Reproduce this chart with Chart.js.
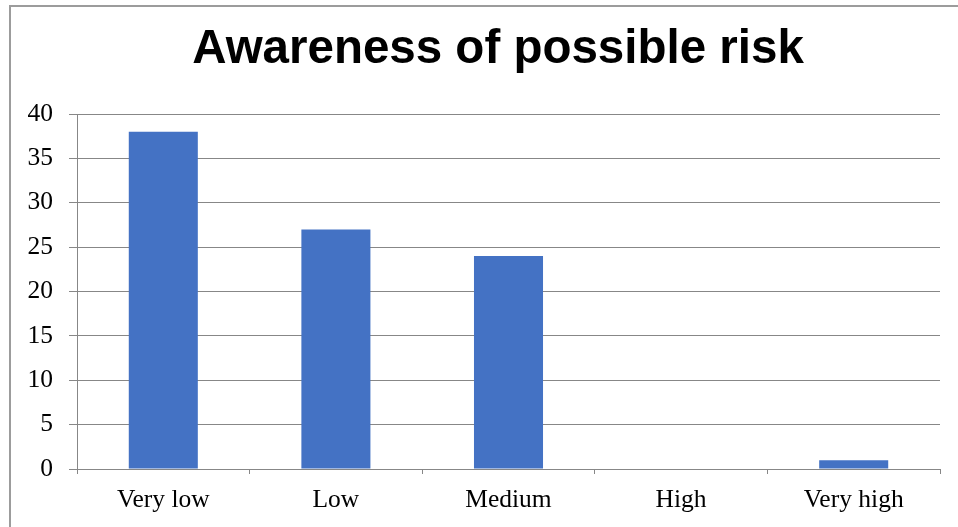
<!DOCTYPE html>
<html>
<head>
<meta charset="utf-8">
<script src="https://cdn.jsdelivr.net/npm/chart.js@4/dist/chart.umd.min.js"></script>
<style>
  html, body { margin: 0; padding: 0; background: #fff; overflow: hidden; }
  #frame { position: absolute; left: 9px; top: 5px; width: 1100px; height: 700px; border: 2px solid #9c9c9c; }
  #chart { position: absolute; left: 0; top: 0; }
</style>
</head>
<body>
<div id="frame"></div>
<canvas id="chart" width="958" height="527"></canvas>
<script>
  const categories = ['Very low', 'Low', 'Medium', 'High', 'Very high'];
  const values = [38, 27, 24, 0, 1];
  const yMin = 0;
  const yMax = 40;
  const yStep = 5;

  const gridGray = '#878787';
  const serif = "'Liberation Serif', 'Times New Roman', serif";

  // the y scale box is kept narrow so the title centres like the original;
  // widen it after layout so its tick labels are not clipped
  const widenYLabels = {
    id: 'widenYLabels',
    afterLayout(chart) {
      chart.scales.y.left = 0;
    },
  };

  let ctx = document.getElementById('chart').getContext('2d');
  let myChart = new Chart(ctx, {
    type: 'bar',
    data: {
      labels: categories,
      datasets: [
        {
          label: 'Awareness',
          data: values,
          backgroundColor: '#4472C4',
          borderWidth: 0,
          barPercentage: 0.4,
          categoryPercentage: 1,
        },
      ],
    },
    plugins: [widenYLabels],
    options: {
      responsive: false,
      animation: false,
      devicePixelRatio: 1,
      layout: {
        padding: { left: 56, right: 18, top: 10, bottom: 0 },
      },
      plugins: {
        legend: { display: false },
        tooltip: { enabled: false },
        title: {
          display: true,
          text: 'Awareness of possible risk',
          color: '#000',
          font: {
            family: "'Liberation Sans', Arial, sans-serif",
            size: 47.5,
            weight: 'bold',
            lineHeight: 1.2,
          },
          padding: { top: 11, bottom: 36 },
        },
      },
      scales: {
        x: {
          afterFit: (scale) => { scale.height = 58; },
          ticks: {
            color: '#000',
            padding: 11,
            font: { family: serif, size: 25.5 },
          },
          grid: {
            drawOnChartArea: false,
            drawTicks: true,
            tickLength: 5,
            color: gridGray,
          },
          border: { color: gridGray, width: 1 },
        },
        y: {
          min: yMin,
          max: yMax,
          afterFit: (scale) => { scale.width = 21; },
          ticks: {
            stepSize: yStep,
            color: '#000',
            padding: 16,
            font: { family: serif, size: 25.5 },
          },
          grid: {
            color: gridGray,
            tickLength: 8,
          },
          border: { color: gridGray, width: 1 },
        },
      },
    },
  });
</script>
</body>
</html>
